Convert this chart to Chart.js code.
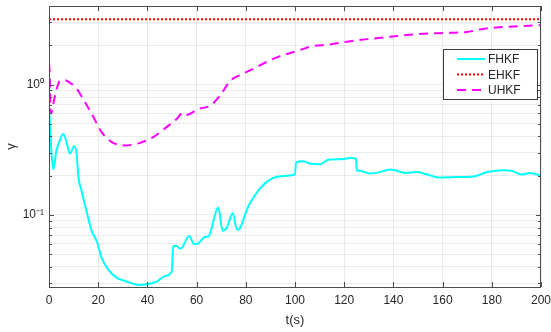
<!DOCTYPE html>
<html>
<head>
<meta charset="utf-8">
<script src="https://cdn.jsdelivr.net/npm/chart.js@4"></script>
<style>
  html, body { margin: 0; padding: 0; background: #fff; }
  #c { display: block; }
</style>
</head>
<body>
<canvas id="c" width="551" height="332"></canvas>
<script>
// series data
const fhkfT = [0, 0.4, 1.0, 1.75, 3, 4.5, 5.8, 7, 8.5, 10.3,
  11.3, 11.9, 13.3, 15.3, 17.4, 19.4, 21.4, 24.1, 27.5, 30.9,
  35, 37, 40, 43.8, 47.2, 49.9, 50.5, 51.6, 53.5, 57,
  58.9, 60.7, 63.4, 64.8, 68.8, 70.6, 72.2, 74.7, 76.5, 77.6,
  80.4, 81.7, 85.8, 90.5, 95.2, 100, 100.4, 103.4, 106.1, 110.2,
  113.5, 118.3, 122.4, 124.8, 125.1, 126.4, 130.5, 133.8, 138.6, 140.7,
  144.7, 149.5, 153.5, 158.3, 165.7, 172.5, 178.6, 184.7, 188, 192.1,
  195.5, 200];
const fhkfV = [0.63, 0.5, 0.3, 0.224, 0.31, 0.38, 0.418, 0.37, 0.295, 0.337,
  0.286, 0.2, 0.151, 0.106, 0.0748, 0.0628, 0.0468, 0.0381, 0.033, 0.0311,
  0.0294, 0.029, 0.0295, 0.0308, 0.034, 0.0371, 0.0575, 0.058, 0.055, 0.069,
  0.0598, 0.0606, 0.0676, 0.0683, 0.114, 0.0756, 0.0792, 0.103, 0.077, 0.079,
  0.109, 0.123, 0.16, 0.19, 0.199, 0.204, 0.252, 0.258, 0.247, 0.245,
  0.265, 0.267, 0.273, 0.27, 0.22, 0.218, 0.208, 0.211, 0.223, 0.22,
  0.21, 0.213, 0.205, 0.194, 0.195, 0.197, 0.214, 0.22, 0.218, 0.204,
  0.21, 0.2];

const ehkfT = [0, 200];
const ehkfV = [3.16, 3.16];

const uhkfT = [0, 0.3, 0.7, 1.1, 2, 3.1, 4.5, 6.5, 8.5, 10.6,
  13.9, 17.4, 21.4, 25.5, 30.9, 37, 42.4, 47.8, 51.9, 54.5,
  56, 60.7, 65.4, 69.5, 73.6, 77.6, 83, 88.5, 93.9, 100.7,
  106.1, 114.2, 122.4, 130.5, 138.6, 146.7, 154.9, 163, 169.8, 176.5,
  184.7, 192.8, 200];
const uhkfV = [1.45, 1.2, 0.6, 0.61, 0.75, 0.92, 1.07, 1.08, 1.03, 0.965,
  0.773, 0.594, 0.431, 0.362, 0.341, 0.357, 0.395, 0.471, 0.544, 0.61,
  0.585, 0.649, 0.687, 0.819, 1.065, 1.18, 1.32, 1.49, 1.65, 1.80,
  1.95, 2.03, 2.15, 2.24, 2.32, 2.41, 2.46, 2.49, 2.53, 2.67,
  2.76, 2.81, 2.85];

// axis ticks (log axis gets every minor decade step as a grid line)
const xTicks = [0, 20, 40, 60, 80, 100, 120, 140, 160, 180, 200];
const yTicks = [0.03, 0.04, 0.05, 0.06, 0.07, 0.08, 0.09,
  0.1, 0.2, 0.3, 0.4, 0.5, 0.6, 0.7, 0.8, 0.9, 1, 2, 3, 4];
const yLabels = { 0.1: '10⁻¹', 1: '10⁰' };

const FONT = "'Liberation Sans', Arial, Helvetica, sans-serif";
const INK = '#262626';

function pts(t, v) {
  return t.map((x, i) => ({ x: x, y: v[i] }));
}

const series = [
  { label: 'FHKF', data: pts(fhkfT, fhkfV), color: '#00ffff', dash: [] },
  { label: 'EHKF', data: pts(ehkfT, ehkfV), color: '#ff0000', dash: [2, 2] },
  { label: 'UHKF', data: pts(uhkfT, uhkfV), color: '#ff00ff', dash: [9, 6] }
];

// box, inner tick marks and the legend, matlab style
const frame = {
  id: 'frame',
  afterDraw(chart) {
    const c = chart.ctx, a = chart.chartArea;
    const xs = chart.scales.x, ys = chart.scales.y;
    c.save();
    c.strokeStyle = '#4d4d4d';
    c.lineWidth = 1;
    c.strokeRect(a.left + 0.5, a.top + 0.5, a.right - a.left - 1, a.bottom - a.top);
    c.beginPath();
    xTicks.forEach(v => {
      const px = Math.round(xs.getPixelForValue(v)) + 0.5;
      c.moveTo(px, a.bottom); c.lineTo(px, a.bottom - 5);
      c.moveTo(px, a.top); c.lineTo(px, a.top + 5);
    });
    yTicks.forEach(v => {
      const py = Math.round(ys.getPixelForValue(v)) + 0.5;
      const len = yLabels[v] ? 5 : 3;
      c.moveTo(a.left, py); c.lineTo(a.left + len, py);
      c.moveTo(a.right, py); c.lineTo(a.right - len, py);
    });
    c.stroke();

    // legend
    const bx = 443, by = 49, bw = 94, bh = 50;
    c.fillStyle = '#fff';
    c.fillRect(bx, by, bw, bh);
    c.strokeStyle = '#3a3a3a';
    c.strokeRect(bx + 0.5, by + 0.5, bw, bh);
    c.font = '12px ' + FONT;
    c.textBaseline = 'middle';
    series.forEach((s, i) => {
      const y = by + 10 + i * 15.5;
      c.beginPath();
      c.strokeStyle = s.color;
      c.lineWidth = 2;
      c.setLineDash(s.dash);
      c.moveTo(457, y); c.lineTo(485, y);
      c.stroke();
      c.setLineDash([]);
      c.fillStyle = INK;
      c.fillText(s.label, 488, y + 1);
    });
    c.restore();
  }
};

const ctx = document.getElementById('c').getContext('2d');
const chart = new Chart(ctx, {
  type: 'line',
  data: {
    datasets: series.map(s => ({
      label: s.label,
      data: s.data,
      borderColor: s.color,
      backgroundColor: s.color,
      borderWidth: 2,
      borderDash: s.dash,
      pointRadius: 0,
      cubicInterpolationMode: 'monotone',
      fill: false
    }))
  },
  options: {
    responsive: false,
    animation: false,
    devicePixelRatio: 1,
    layout: { padding: { top: 6, right: 10, left: 0, bottom: 0 } },
    plugins: {
      legend: { display: false },
      tooltip: { enabled: false }
    },
    scales: {
      x: {
        type: 'linear',
        min: 0,
        max: 200,
        afterBuildTicks: s => { s.ticks = xTicks.map(v => ({ value: v })); },
        afterFit: s => { s.height = 45; s.paddingLeft = 0; s.paddingRight = 0; },
        grid: { color: 'rgba(0,0,0,0.08)', drawTicks: false },
        border: { display: false },
        ticks: { color: INK, font: { family: FONT, size: 12 }, padding: 6, maxRotation: 0 },
        title: { display: true, text: 't(s)', color: INK, font: { family: FONT, size: 13 }, padding: { top: 1 } }
      },
      y: {
        type: 'logarithmic',
        min: 0.028,
        max: 4,
        afterBuildTicks: s => { s.ticks = yTicks.map(v => ({ value: v })); },
        afterFit: s => { s.width = 49; s.paddingTop = 0; s.paddingBottom = 0; },
        grid: { color: 'rgba(0,0,0,0.08)', drawTicks: false },
        border: { display: false },
        ticks: {
          color: INK,
          font: { family: FONT, size: 12 },
          padding: 5,
          autoSkip: false,
          callback: v => yLabels[v] || ''
        },
        title: { display: true, text: 'γ', color: INK, font: { family: FONT, size: 13 }, padding: { bottom: 2 } }
      }
    }
  },
  plugins: [frame]
});
</script>
</body>
</html>
